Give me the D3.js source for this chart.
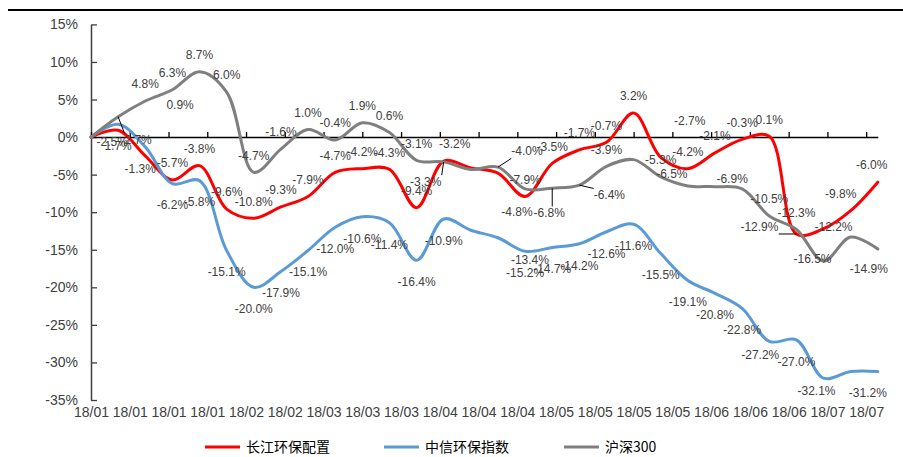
<!DOCTYPE html>
<html>
<head>
<meta charset="utf-8">
<script src="https://cdn.jsdelivr.net/npm/d3@7"></script>
<style>
  html, body { margin: 0; padding: 0; background: #ffffff; }
  svg { display: block; }
  text { font-family: "Liberation Sans", Arial, sans-serif; }
</style>
</head>
<body>
<svg id="chart" width="903" height="457"></svg>
<script>
// ---------------- data ----------------
const dates = ["2018-01-01","2018-01-08","2018-01-15","2018-01-22","2018-01-29",
  "2018-02-05","2018-02-12","2018-02-19","2018-02-26",
  "2018-03-05","2018-03-12","2018-03-19","2018-03-26",
  "2018-04-02","2018-04-09","2018-04-16","2018-04-23","2018-04-30",
  "2018-05-07","2018-05-14","2018-05-21","2018-05-28",
  "2018-06-04","2018-06-11","2018-06-18","2018-06-25",
  "2018-07-02","2018-07-09","2018-07-16","2018-07-23"];

const seriesNames = ["长江环保配置", "中信环保指数", "沪深300"];

const cjConfig = [0, 0.9, -2.5, -5.7, -3.8, -9.6, -10.8, -9.3, -7.9, -4.7, -4.2, -4.3, -9.4, -3.2, -4.1,
  -4.8, -7.9, -3.5, -1.7, -0.7, 3.2, -2.7, -4.2, -2.1, -0.3, 0.1, -12.9, -12.2, -9.8, -6.0];
const zxIndex = [0, 1.7, -1.3, -6.2, -5.8, -15.1, -20.0, -17.9, -15.1, -12.0, -10.6, -11.4, -16.4, -10.9, -12.4,
  -13.4, -15.2, -14.7, -14.2, -12.6, -11.6, -15.5, -19.1, -20.8, -22.8, -27.2, -27.0, -32.1, -31.2, -31.2];
const hs300 = [0, 2.7, 4.8, 6.3, 8.7, 6.0, -4.7, -1.6, 1.0, -0.4, 1.9, 0.6, -3.1, -3.3, -4.3,
  -4.0, -6.9, -6.8, -6.4, -3.9, -3.0, -5.3, -6.5, -6.6, -6.9, -10.5, -12.3, -16.5, -13.3, -14.9];

// points whose data label is not shown in the original
const cjHidden = [0, 14];
const zxHidden = [0, 14, 28];
const hsHidden = [0, 14, 16, 20, 23, 28];

const yTicks = [15, 10, 5, 0, -5, -10, -15, -20, -25, -30, -35];
const xTickDates = ["2018-01-01","2018-01-11","2018-01-21","2018-01-31","2018-02-10","2018-02-20",
  "2018-03-02","2018-03-12","2018-03-22","2018-04-01","2018-04-11","2018-04-21",
  "2018-05-01","2018-05-11","2018-05-21","2018-05-31","2018-06-10","2018-06-20","2018-06-30",
  "2018-07-10","2018-07-20"];
const xTickLabels = ["18/01","18/01","18/01","18/01","18/02","18/02","18/03","18/03","18/03",
  "18/04","18/04","18/04","18/05","18/05","18/05","18/05","18/06","18/06","18/06","18/07","18/07"];

// ---------------- layout / styles ----------------
const colors = ["#FF0000", "#5B9BD5", "#7F7F7F"];
const labelSide = ["above", "below", "above"];
const textColor = "#404040";

// hand-placed data labels (offsets from the default spot, in px), some with leader lines
const labelNudges = [
  { 1: [62, -9], 2: [-33, 3], 13: [11, 0], 15: [19, 56], 21: [29, -20], 26: [-37, 10, 1],
    27: [10, 15], 28: [-10, 0], 29: [-6, 0] },
  { 2: [-5, 0], 15: [32, 0], 25: [-9, -8], 27: [-7, -9], 29: [-10, 0] },
  { 1: [20, 40, 1], 13: [-18, 37, 1], 15: [29, 1, 1], 17: [-3, 42, 1], 18: [30, 27, 1],
    22: [-16, 5], 24: [-10, 7], 27: [-11, 15], 29: [-9, 37] }
];

const parse = d3.utcParse("%Y-%m-%d");
const dateObjs = dates.map(parse);
const tickDateObjs = xTickDates.map(parse);

const svg = d3.select("#chart");
svg.append("rect").attr("width", 903).attr("height", 457).attr("fill", "#fff");

// top rule
svg.append("line").attr("x1", 8).attr("x2", 903).attr("y1", 10).attr("y2", 10)
  .attr("stroke", "#000").attr("stroke-width", 2);

const x = d3.scaleUtc().domain([dateObjs[0], dateObjs[dateObjs.length - 1]]).range([91, 877.8]);
const y = d3.scaleLinear().domain([-35, 15]).range([400, 24.4]);

// y axis
const yAxis = d3.axisLeft(y).tickValues(yTicks).tickFormat(d => d + "%")
  .tickSizeInner(-6).tickSizeOuter(0).tickPadding(13);
const gy = svg.append("g").attr("transform", "translate(91,0)").call(yAxis);
gy.select(".domain").attr("stroke", "#404040").attr("stroke-width", 1.5);
gy.selectAll(".tick line").attr("stroke", "#404040").attr("stroke-width", 1.3);
gy.selectAll(".tick text").attr("fill", textColor).style("font-size", "14px")
  .style("font-family", "'Liberation Sans', Arial, sans-serif");

// x axis line at zero with upward ticks
const xAxisLine = d3.axisBottom(x).tickValues(tickDateObjs).tickFormat("")
  .tickSizeInner(-5).tickSizeOuter(0);
const gx = svg.append("g").attr("transform", `translate(0,${y(0)})`).call(xAxisLine);
gx.select(".domain").attr("stroke", "#000").attr("stroke-width", 1.5);
gx.selectAll(".tick line").attr("stroke", "#000").attr("stroke-width", 1.3);

// x labels at bottom
const xAxisLabels = d3.axisBottom(x).tickValues(tickDateObjs)
  .tickFormat((d, i) => xTickLabels[i]).tickSize(0).tickPadding(0);
const gxl = svg.append("g").attr("transform", "translate(0,407)").call(xAxisLabels);
gxl.select(".domain").remove();
gxl.selectAll(".tick text").attr("fill", textColor).style("font-size", "14px")
  .style("font-family", "'Liberation Sans', Arial, sans-serif");

// lines
const allSeries = [cjConfig, zxIndex, hs300];
const hiddenSets = [cjHidden, zxHidden, hsHidden];
const line = d3.line()
  .x((d, i) => x(dateObjs[i]))
  .y(d => y(d))
  .curve(d3.curveCatmullRom.alpha(0.5));

allSeries.forEach((vals, s) => {
  svg.append("path").datum(vals)
    .attr("d", line)
    .attr("fill", "none")
    .attr("stroke", colors[s])
    .attr("stroke-width", 3)
    .attr("stroke-linejoin", "round")
    .attr("stroke-linecap", "round");
});

// data labels
const leaderG = svg.append("g");
allSeries.forEach((vals, s) => {
  const hidden = new Set(hiddenSets[s]);
  const nudges = labelNudges[s];
  const pts = vals.map((v, i) => {
    const px = x(dateObjs[i]), py = y(v);
    const n = nudges[i] || [0, 0, 0];
    const cx = px + n[0];
    const cy = (labelSide[s] === "above" ? py - 17 : py + 21.5) + n[1];
    return { v, i, px, py, cx, cy, leader: !!n[2] };
  }).filter(d => !hidden.has(d.i));
  const texts = svg.append("g").selectAll("text").data(pts).join("text")
    .attr("x", d => d.cx)
    .attr("y", d => d.cy + 4.3)
    .attr("text-anchor", "middle")
    .attr("fill", textColor)
    .style("font-size", "12px")
    .text(d => d.v.toFixed(1) + "%");
  texts.each(function (d) {
    if (!d.leader) return;
    const b = this.getBBox();
    const ex = Math.max(b.x, Math.min(d.px, b.x + b.width));
    const ey = Math.max(b.y, Math.min(d.py, b.y + b.height));
    leaderG.append("line")
      .attr("x1", d.px).attr("y1", d.py).attr("x2", ex).attr("y2", ey)
      .attr("stroke", "#000").attr("stroke-width", 1);
  });
});

// legend
const legendX = [205, 384, 564];
seriesNames.forEach((name, s) => {
  const g = svg.append("g").attr("transform", `translate(${legendX[s]},447)`);
  g.append("line").attr("x1", 0).attr("x2", 35).attr("y1", 0).attr("y2", 0)
    .attr("stroke", colors[s]).attr("stroke-width", 3);
  g.append("text").attr("x", 41).attr("y", 5)
    .attr("fill", "#000")
    .style("font-size", "14px")
    .style("font-family", "'Noto Sans CJK SC', sans-serif")
    .text(name);
});
</script>
</body>
</html>
